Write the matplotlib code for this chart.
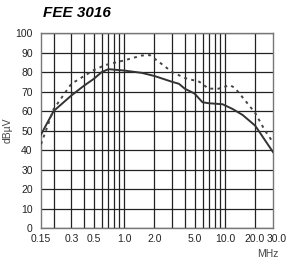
import matplotlib
matplotlib.use('Agg')
import matplotlib.pyplot as plt
import matplotlib.transforms as mtransforms
from matplotlib.ticker import FixedLocator, NullFormatter

plt.rcParams['font.family'] = ['Liberation Sans', 'DejaVu Sans']

# Solid curve
freq_solid = [0.15, 0.2, 0.3, 0.4, 0.5, 0.6, 0.7, 1.0, 1.5, 2.0, 3.0, 3.5, 4.0, 5.0, 6.0, 7.0, 9.5, 12, 15, 20, 30]
level_solid = [48, 60, 68, 73, 76.5, 80, 81.5, 80.8, 79.6, 78, 75, 74, 71.5, 69, 64.5, 64, 63.5, 61, 58, 52.5, 39]

# Dotted curve
freq_dot = [0.15, 0.2, 0.3, 0.5, 0.65, 1.0, 1.5, 1.8, 2.3, 3.0, 4.0, 5.6, 6.9, 8.7, 11.2, 12.5, 15.8, 20, 25, 30]
level_dot = [43, 61, 74, 81, 83.6, 86, 88.5, 88.7, 84.6, 80, 77, 75, 71.5, 71.5, 73.3, 72, 65.6, 59, 50, 44]

xticks = [0.15, 0.3, 0.5, 1.0, 2.0, 5.0, 10.0, 20.0, 30.0]
xtick_labels = ['0.15', '0.3', '0.5', '1.0', '2.0', '5.0', '10.0', '20.0', '30.0']
xgrid = [0.2, 0.3, 0.4, 0.5, 0.6, 0.7, 0.8, 0.9, 1, 2, 3, 4, 5, 6, 7, 8, 9, 10, 20]
yticks = list(range(0, 101, 10))

fig = plt.figure(figsize=(2.91, 2.67), dpi=100)
ax = fig.add_axes([0.141, 0.146, 0.797, 0.730])

ax.plot(freq_solid, level_solid, color='#333333', lw=1.4, zorder=3)
ax.plot(freq_dot, level_dot, color='#444444', lw=1.4, ls=(0, (1.5, 2.2)), zorder=3)

ax.set_xscale('log')
ax.set_xlim(0.15, 30)
ax.set_ylim(0, 100)

ax.xaxis.remove_overlapping_locs = False
ax.xaxis.set_major_locator(FixedLocator(xticks))
ax.set_xticklabels(xtick_labels)
ax.xaxis.set_minor_locator(FixedLocator(xgrid))
ax.xaxis.set_minor_formatter(NullFormatter())
ax.set_yticks(yticks)

ax.tick_params(which='both', length=0, labelsize=7.5, colors='#222222')
ax.tick_params(axis='x', pad=4)
ax.tick_params(axis='y', pad=6)
ax.grid(False)
ax.xaxis.grid(True, which='minor', color='#222222', lw=0.9)
ax.yaxis.grid(True, which='major', color='#222222', lw=0.9)
for s in ax.spines.values():
    s.set_color('#777777')
    s.set_linewidth(1.0)

# nudge the last labels, as in the reference
labels = ax.get_xticklabels()
labels[-1].set_transform(labels[-1].get_transform() +
                         mtransforms.ScaledTranslation(4 / 100, 0, fig.dpi_scale_trans))
labels[-2].set_transform(labels[-2].get_transform() +
                         mtransforms.ScaledTranslation(-1 / 100, 0, fig.dpi_scale_trans))

ax.set_ylabel('dBµV', fontsize=7.5, color='#444444', labelpad=2)
fig.text(0.92, 0.03, 'MHz', fontsize=7.5, color='#444444', ha='center', va='bottom')
fig.text(0.148, 0.925, 'FEE 3016', fontsize=11, fontweight='bold', fontstyle='italic', ha='left', va='bottom')

fig.savefig('out.png', dpi=100)
